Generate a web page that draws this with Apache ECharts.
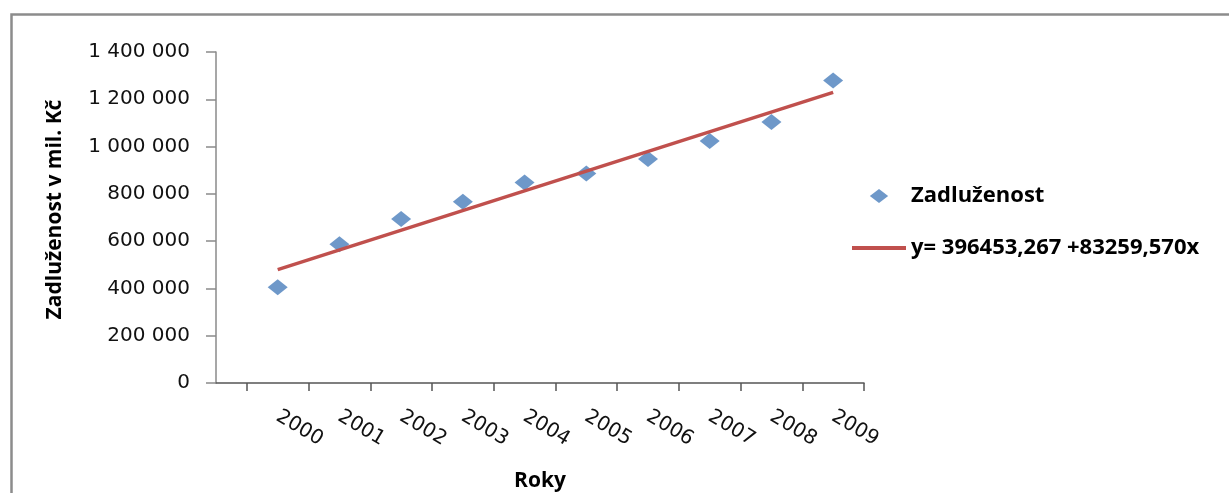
<!DOCTYPE html>
<html>
<head>
<meta charset="utf-8">
<script src="https://cdn.jsdelivr.net/npm/echarts@6/dist/echarts.min.js"></script>
<style>
html,body{margin:0;padding:0;background:#fff;}
#chart{width:1229px;height:493px;}
</style>
</head>
<body>
<div id="chart"></div>
<script>
// ---- data ----
const years = [2000, 2001, 2002, 2003, 2004, 2005, 2006, 2007, 2008, 2009];
const debt = [405000, 587000, 694000, 767000, 848000, 886000, 947000, 1024000, 1104000, 1279000];
const trendYears = [2000, 2009];
const trendValues = [479700, 1229000];
const yTicks = [0, 200000, 400000, 600000, 800000, 1000000, 1200000, 1400000];
const seriesName = 'Zadluženost';
const trendName = 'y= 396453,267 +83259,570x';
const xTitle = 'Roky';
const yTitle = 'Zadluženost v mil. Kč';

const scatterData = years.map((y, i) => [y, debt[i]]);
const trendData = trendYears.map((y, i) => [y, trendValues[i]]);
const tickBounds = years.map(y => y - 0.5).concat([years[years.length - 1] + 0.5]);

function fmt(v) {
  return String(v).replace(/\B(?=(\d{3})+(?!\d))/g, ' ');
}

const chart = echarts.init(document.getElementById('chart'), null, {renderer: 'canvas'});
chart.setOption({
  animation: false,
  backgroundColor: '#ffffff',
  graphic: [{
    type: 'rect', left: 9, top: 12, silent: true,
    shape: {width: 1400, height: 700},
    style: {fill: 'none', stroke: '#8c8c8c', lineWidth: 2.5}
  }],
  grid: {left: 216, right: 365, top: 52, bottom: 110, outerBoundsMode: 'none'},
  legend: {
    orient: 'vertical', left: 847, top: 180, itemGap: 30,
    itemWidth: 54, itemHeight: 14,
    textStyle: {fontFamily: 'Open Sans', fontWeight: 'bold', fontSize: 22, color: '#000'},
    data: [
      {name: seriesName, icon: 'path://M0,6.5L8.5,0L17,6.5L8.5,13Z'},
      {name: trendName, icon: 'path://M0,0L54,0L54,4L0,4Z'}
    ]
  },
  xAxis: {
    type: 'value', min: years[0] - 1, max: years[years.length - 1] + 0.5,
    name: xTitle, nameLocation: 'middle', nameGap: 98,
    nameTextStyle: {fontFamily: 'Open Sans', fontWeight: 'bold', fontSize: 21, color: '#000', verticalAlign: 'middle'},
    splitLine: {show: false},
    axisLine: {show: true, lineStyle: {color: '#555', width: 1.5}},
    axisTick: {show: true, length: 8, customValues: tickBounds, lineStyle: {color: '#555', width: 1.5}},
    axisLabel: {
      customValues: years, rotate: -31, margin: 32,
      fontFamily: 'DejaVu Sans', fontSize: 20, color: '#111',
      formatter: v => String(v)
    }
  },
  yAxis: {
    type: 'value', min: yTicks[0], max: yTicks[yTicks.length - 1], interval: yTicks[1] - yTicks[0],
    name: yTitle, nameLocation: 'middle', nameGap: 150, nameRotate: 90,
    nameTextStyle: {fontFamily: 'Open Sans', fontWeight: 'bold', fontSize: 21, color: '#000', padding: [0, 0, 0, 16]},
    splitLine: {show: false},
    axisLine: {show: true, lineStyle: {color: '#8a8a8a', width: 1.5}},
    axisTick: {show: true, length: 10, lineStyle: {color: '#8a8a8a', width: 1.5}},
    axisLabel: {margin: 26, fontFamily: 'DejaVu Sans', fontSize: 20, color: '#111', formatter: v => fmt(v)}
  },
  series: [
    {
      name: seriesName, type: 'scatter', data: scatterData,
      symbol: 'diamond', symbolSize: [20, 16],
      itemStyle: {color: '#4a7ebb'}, z: 2
    },
    {
      name: trendName, type: 'line', data: trendData,
      symbol: 'none', showSymbol: false,
      lineStyle: {color: '#c0504d', width: 3.5},
      itemStyle: {color: '#c0504d'}, z: 3
    }
  ]
});
</script>
</body>
</html>
